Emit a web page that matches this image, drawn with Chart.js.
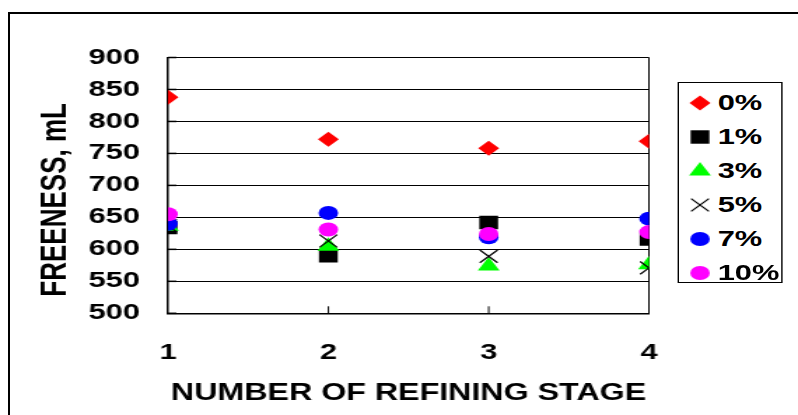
<!DOCTYPE html>
<html>
<head>
<meta charset="utf-8">
<script src="https://cdn.jsdelivr.net/npm/chart.js@4.4.1/dist/chart.umd.min.js"></script>
<style>
    html, body { margin: 0; padding: 0; background: #fff; overflow: hidden; }
    #frame { position: absolute; left: 8px; top: 12px; width: 900px; height: 500px; border: 2px solid #000; box-sizing: border-box; }
    /* the reference is stretched sideways, so the whole chart is drawn narrow and widened */
    #stretch { position: absolute; left: 0; top: 0; width: 570px; height: 415px; transform: scaleX(1.4); transform-origin: 0 0; }
    #legend { position: absolute; left: 483.6px; top: 82px; width: 75px; height: 201px; border: 1px solid #000; box-sizing: border-box; background: #fff;
              font: bold 22px "Liberation Sans", Arial, sans-serif; color: #000; }
    .item { position: absolute; left: 0; width: 75px; height: 30px; }
    .item canvas { position: absolute; left: 4px; top: 0; }
    .item span { position: absolute; left: 28px; top: 15px; transform: translateY(-50%); line-height: 1; }
</style>
</head>
<body>
<div id="frame"></div>
<div id="stretch">
    <canvas id="freenessChart" width="570" height="415"></canvas>
    <div id="legend"></div>
</div>
<script>
    // Data
    const stages = [1, 2, 3, 4];
    const seriesNames = ['0%', '1%', '3%', '5%', '7%', '10%'];
    const freeness0 = [838, 772, 758, 769];
    const freeness1 = [634, 590, 642, 616];
    const freeness3 = [636, 605, 574, 576];
    const freeness5 = [637, 613, 589, 571];
    const freeness7 = [640, 657, 619, 648];
    const freeness10 = [655, 631, 624, 627];
    const yTicks = [500, 550, 600, 650, 700, 750, 800, 850, 900];

    const seriesValues = [freeness0, freeness1, freeness3, freeness5, freeness7, freeness10];

    // Marker styles, same order as seriesNames
    const markers = [
        { style: 'rectRot', color: '#ff0000', radius: 7.5 },
        { style: 'rect', color: '#000000', radius: 9.5 },
        { style: 'triangle', color: '#00ff00', radius: 9 },
        { style: 'crossRot', color: '#000000', radius: 9 },
        { style: 'circle', color: '#0000ff', radius: 7 },
        { style: 'circle', color: '#ff00ff', radius: 7 }
    ];

    const fontFamily = '"Liberation Sans", Arial, Helvetica, sans-serif';

    const datasets = seriesNames.map(function(name, i) {
        return {
            label: name,
            data: stages.map((s, j) => ({ x: s, y: seriesValues[i][j] })),
            pointStyle: markers[i].style,
            pointRadius: markers[i].radius,
            pointHoverRadius: markers[i].radius,
            backgroundColor: markers[i].color,
            borderColor: markers[i].color,
            borderWidth: markers[i].style === 'crossRot' ? 1.2 : 0,
            showLine: false,
            order: seriesNames.length - i   // later series sit on top
        };
    });

    // Small inward tick marks along the left and bottom axes
    const axisTicks = {
        id: 'axisTicks',
        beforeDatasetsDraw(chart) {
            const ctx = chart.ctx;
            const area = chart.chartArea;
            const x = chart.scales.x;
            const y = chart.scales.y;
            ctx.save();
            ctx.strokeStyle = '#000';
            ctx.lineWidth = 1.5;
            yTicks.forEach(v => {
                const py = y.getPixelForValue(v);
                ctx.beginPath();
                ctx.moveTo(area.left, py);
                ctx.lineTo(area.left + 6, py);
                ctx.stroke();
            });
            ctx.lineWidth = 1;
            stages.slice(1, -1).forEach(s => {
                const px = x.getPixelForValue(s);
                ctx.beginPath();
                ctx.moveTo(px, area.bottom);
                ctx.lineTo(px, area.bottom - 7);
                ctx.stroke();
            });
            ctx.restore();
        }
    };

    new Chart(document.getElementById('freenessChart'), {
        type: 'scatter',
        data: { datasets: datasets },
        options: {
            responsive: false,
            animation: false,
            devicePixelRatio: 1,
            layout: { padding: { left: 0, top: 57.5, right: 106.4, bottom: 0 } },
            plugins: {
                legend: { display: false },
                tooltip: { enabled: false }
            },
            scales: {
                x: {
                    type: 'linear',
                    min: 1,
                    max: 4,
                    afterBuildTicks: (scale) => { scale.ticks = stages.map(v => ({ value: v })); },
                    afterFit: (scale) => { scale.height = 101.7; },
                    grid: {
                        drawTicks: false,
                        color: (c) => (c.tick && c.tick.value === 4 ? '#000' : 'rgba(0,0,0,0)'),
                        lineWidth: 1
                    },
                    border: { color: '#000', width: 1.5 },
                    ticks: {
                        padding: 26,
                        color: '#000',
                        font: { family: fontFamily, size: 22, weight: 'bold' }
                    },
                    title: {
                        display: true,
                        text: 'NUMBER OF REFINING STAGE',
                        color: '#000',
                        font: { family: fontFamily, size: 23, weight: 'bold' },
                        padding: { top: 0, bottom: 8 }
                    }
                },
                y: {
                    min: 500,
                    max: 900,
                    afterBuildTicks: (scale) => { scale.ticks = yTicks.map(v => ({ value: v })); },
                    afterFit: (scale) => { scale.width = 120; },
                    grid: { drawTicks: false, color: '#000', lineWidth: 1 },
                    border: { color: '#000', width: 1.5 },
                    ticks: {
                        padding: 20,
                        color: '#000',
                        font: { family: fontFamily, size: 22, weight: 'bold' }
                    },
                    title: {
                        display: true,
                        // trailing spaces nudge the title down, as in the reference
                        text: 'FREENESS, mL\u00a0\u00a0\u00a0\u00a0',
                        color: '#000',
                        font: { family: fontFamily, size: 26, weight: 'bold' },
                        padding: { top: 24, bottom: 0 }
                    }
                }
            }
        },
        plugins: [axisTicks]
    });

    // Legend box, built from the same names and marker styles
    const legend = document.getElementById('legend');
    seriesNames.forEach(function(name, i) {
        const item = document.createElement('div');
        item.className = 'item';
        item.style.top = (5 + i * 34) + 'px';
        const sw = document.createElement('canvas');
        sw.width = 22;
        sw.height = 30;
        const sctx = sw.getContext('2d');
        sctx.fillStyle = markers[i].color;
        sctx.strokeStyle = markers[i].color;
        sctx.lineWidth = 1.2;
        Chart.helpers.drawPoint(sctx, {
            pointStyle: markers[i].style,
            radius: markers[i].radius,
            rotation: 0,
            borderWidth: markers[i].style === 'crossRot' ? 1.2 : 0
        }, 11, 15);
        const label = document.createElement('span');
        label.textContent = name;
        item.appendChild(sw);
        item.appendChild(label);
        legend.appendChild(item);
    });
</script>
</body>
</html>
